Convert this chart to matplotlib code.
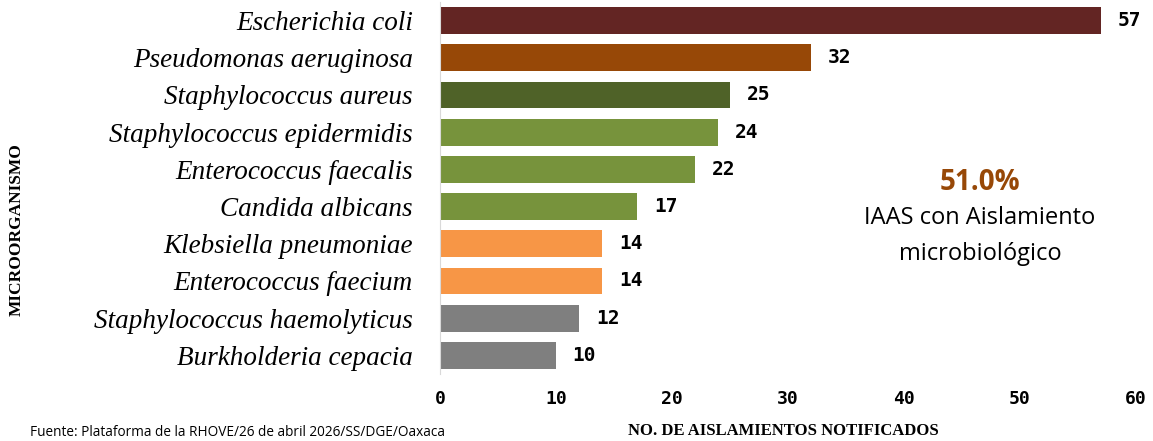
import matplotlib
matplotlib.use("Agg")
import matplotlib.pyplot as plt

organismos = ["Escherichia coli", "Pseudomonas aeruginosa", "Staphylococcus aureus",
              "Staphylococcus epidermidis", "Enterococcus faecalis", "Candida albicans",
              "Klebsiella pneumoniae", "Enterococcus faecium",
              "Staphylococcus haemolyticus", "Burkholderia cepacia"]
aislamientos = [57, 32, 25, 24, 22, 17, 14, 14, 12, 10]
colores = ["#632523", "#974807", "#4F6228", "#77933C", "#77933C", "#77933C",
           "#F79646", "#F79646", "#7F7F7F", "#7F7F7F"]
xticks = [0, 10, 20, 30, 40, 50, 60]

fig = plt.figure(figsize=(11.53, 4.41), dpi=100)
ax = fig.add_axes([440 / 1153, 1 - 374 / 441, 696 / 1153, 372 / 441])

pos = list(range(len(organismos)))[::-1]
ax.barh(pos, aislamientos, height=0.72, color=colores, zorder=2)
for p, v in zip(pos, aislamientos):
    ax.annotate(str(v), (v, p), xytext=(12, 0), textcoords="offset points",
                va="center", ha="left", fontsize=14, fontweight="bold",
                family="DejaVu Sans Mono")

ax.set_xlim(0, 60)
ax.set_ylim(-0.5, 9.5)
ax.set_yticks(pos)
ax.set_yticklabels(organismos, fontsize=19.5, style="italic", family="Liberation Serif")
ax.set_xticks(xticks)
ax.set_xticklabels([str(t) for t in xticks], fontsize=13, fontweight="bold",
                   family="DejaVu Sans Mono")
ax.tick_params(axis="both", length=0)
ax.tick_params(axis="y", pad=19.5)
ax.tick_params(axis="x", pad=11.5)
for s in ["top", "right", "bottom"]:
    ax.spines[s].set_visible(False)
ax.spines["left"].set_color("#D9D9D9")

fig.text(783 / 1153, 1 - 431 / 441, "NO. DE AISLAMIENTOS NOTIFICADOS", ha="center",
         va="center", fontsize=12, fontweight="bold", family="Liberation Serif")
fig.text(17 / 1153, 1 - 230 / 441, "MICROORGANISMO", ha="center", va="center",
         rotation=90, fontsize=12.5, fontweight="bold", family="Liberation Serif")

fig.text(980 / 1153, 1 - 182 / 441, "51.0%", ha="center", va="center", fontsize=20,
         fontweight="bold", color="#974807", family="Open Sans")
fig.text(980 / 1153, 1 - 236 / 441, "IAAS con Aislamiento\nmicrobiológico",
         ha="center", va="center", fontsize=17, linespacing=1.62, family="Open Sans")

fig.text(30 / 1153, 1 / 441, "Fuente: Plataforma de la RHOVE/26 de abril 2026/SS/DGE/Oaxaca",
         ha="left", va="bottom", fontsize=9.8, family="Open Sans")

fig.savefig("out.png", dpi=100)
